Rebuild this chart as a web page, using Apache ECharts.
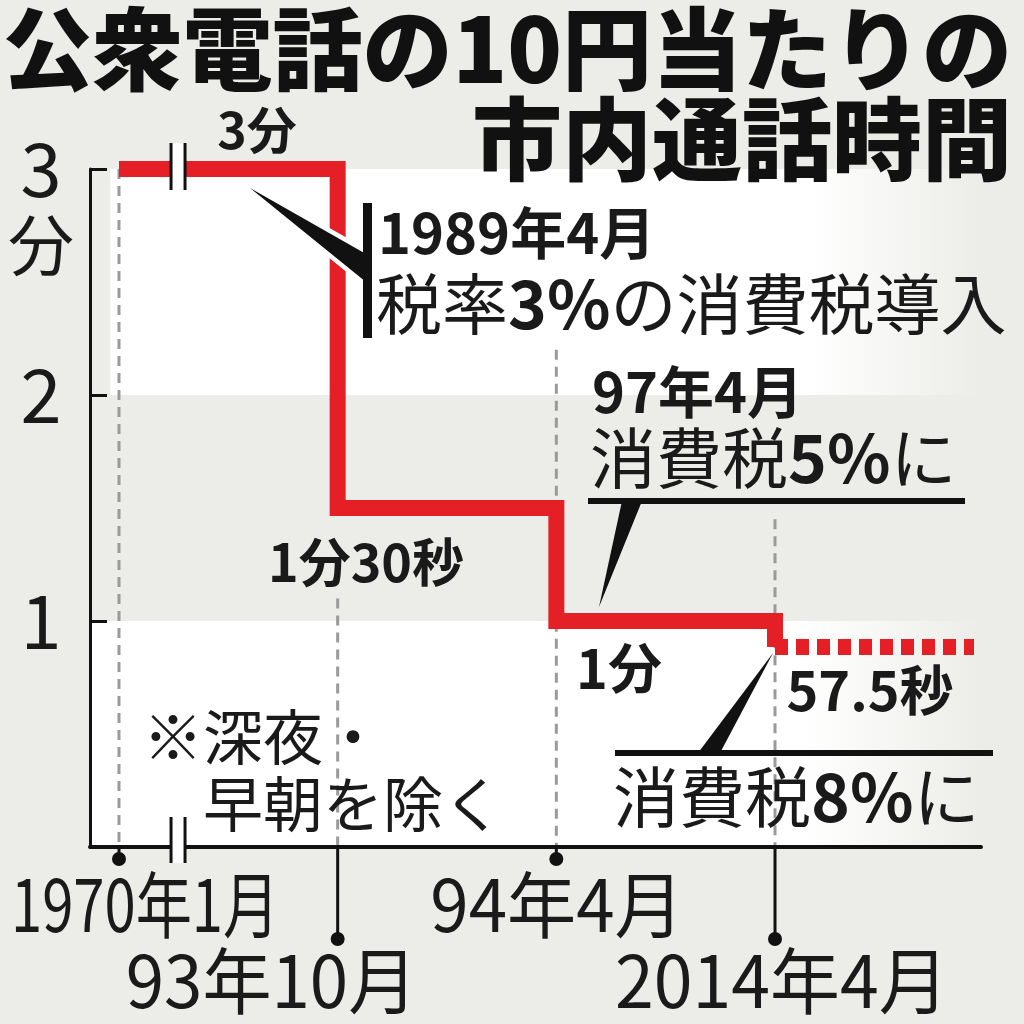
<!DOCTYPE html>
<html><head><meta charset="utf-8">
<script src="https://cdn.jsdelivr.net/npm/echarts@6/dist/echarts.min.js"></script>
<style>html,body{margin:0;padding:0;background:#ecece8}#c{width:1024px;height:1024px}</style>
</head><body><div id="c"></div>
<script>
// ---- data ----
const dateLabels = ['1970年1月', '93年10月', '94年4月', '2014年4月'];
const datePositions = [0, 1, 2, 3];          // equally spaced change dates (broken axis)
const callMinutes = [3, 1.5, 1, 0.885];       // minutes per 10 yen (as drawn)
const extendedTo = [3.91];                    // dashed continuation end
const yTickValues = [1, 2, 3];
const valueLabels = ['3分', '1分30秒', '1分', '57.5秒'];
const breakAt = [0.27];

// ---- styling ----
const JP = "'Noto Sans CJK JP', 'Noto Sans', sans-serif";
const BG = '#ecece8';
const RED = '#e41f26';
const INK = '#1a1a1a';
const xMin = -0.1326, xMax = 3.942;
const guideTop = [3, 1.1, 2.2, 1.45];
const stemLen = [12, 92, 12, 92];
const rowOff = [58, 134, 58, 134];
const labelDx = [-108, -212, -126, -160];
const labelScale = [0.78, 0.96, 0.96, 0.97];

const stepData = datePositions.map((x, i) => [x, callMinutes[i]]);
const lastVal = callMinutes[callMinutes.length - 1];
const dashData = [[datePositions[datePositions.length - 1], lastVal], [extendedTo[0], lastVal]];

function fade() {
  return new echarts.graphic.LinearGradient(0, 0, 1, 0, [
    {offset: 0, color: '#ffffff'}, {offset: 0.8, color: '#ffffff'}, {offset: 1, color: BG}
  ]);
}

const chart = echarts.init(document.getElementById('c'), null, {renderer: 'canvas'});

function txt(x, y, text, size, weight, align, extra) {
  return Object.assign({
    type: 'text', z: 100, x: x, y: y,
    style: Object.assign({
      text: text, font: (weight || 'normal') + ' ' + size + 'px ' + JP, fill: INK,
      align: align || 'left', textAlign: align || 'left',
      verticalAlign: 'middle', textVerticalAlign: 'middle'
    }, extra || {})
  });
}

const option = {
  backgroundColor: BG,
  animation: false,
  grid: {left: 90, right: 43, top: 169, bottom: 177, containLabel: false},
  xAxis: {
    type: 'value', min: xMin, max: xMax, z: 8,
    axisLine: {show: true, onZero: false, lineStyle: {color: '#111', width: 4}},
    axisTick: {show: false}, axisLabel: {show: false}, splitLine: {show: false}
  },
  yAxis: {
    type: 'value', min: 0, max: 3, interval: 1, z: 8,
    axisLine: {show: true, onZero: false, lineStyle: {color: '#111', width: 3}},
    axisTick: {show: true, inside: true, length: 17, lineStyle: {color: '#111', width: 3}},
    axisLabel: {
      show: true, fontSize: 74, fontFamily: JP, color: INK, align: 'center', margin: 49,
      formatter: v => (yTickValues.indexOf(v) >= 0 ? String(v) : '')
    },
    splitLine: {show: false}
  },
  series: [
    {
      type: 'line', data: [], z: 0, silent: true,
      markArea: {
        silent: true,
        data: [
          [{xAxis: -0.04, yAxis: 2, itemStyle: {color: fade()}}, {xAxis: xMax, yAxis: 3}],
          [{xAxis: -0.125, yAxis: 0, itemStyle: {color: fade()}}, {xAxis: xMax, yAxis: 1}]
        ]
      }
    },
    {
      type: 'custom', z: 3, clip: false, silent: true,
      data: datePositions.map(x => [x]),
      renderItem: function (params, api) {
        const i = params.dataIndex;
        const x = api.value(0);
        const base = api.coord([x, 0]);
        const top = api.coord([x, guideTop[i]]);
        return {
          type: 'group', children: [
            {type: 'line', shape: {x1: base[0], y1: top[1], x2: base[0], y2: base[1]},
             style: {stroke: '#9a9a9a', lineWidth: 3, lineDash: [10, 7]}},
            {type: 'line', shape: {x1: base[0], y1: base[1], x2: base[0], y2: base[1] + stemLen[i]},
             style: {stroke: '#111', lineWidth: 3}},
            {type: 'circle', shape: {cx: base[0], cy: base[1] + stemLen[i], r: 7}, style: {fill: '#111'}},
            {type: 'text', x: base[0] + labelDx[i], y: base[1] + rowOff[i], scaleX: labelScale[i],
             style: {text: dateLabels[i], x: 0, y: 0, font: '72px ' + JP, fill: INK,
                     align: 'left', textAlign: 'left', verticalAlign: 'middle', textVerticalAlign: 'middle'}}
          ]
        };
      }
    },
    {
      type: 'line', data: stepData, step: 'end', z: 5, clip: false, silent: true,
      symbol: 'none',
      lineStyle: {color: RED, width: 16, join: 'miter', cap: 'butt'}
    },
    {
      type: 'line', data: dashData, z: 5, clip: false, silent: true,
      symbol: 'none',
      lineStyle: {color: RED, width: 16, type: [13, 8], cap: 'butt'}
    },
    {
      type: 'custom', z: 10, clip: false, silent: true,
      data: breakAt.map(x => [x]),
      renderItem: function (params, api) {
        const x = api.value(0);
        const t = api.coord([x, 3]);
        const b = api.coord([x, 0]);
        return {
          type: 'group', children: [
            {type: 'rect', shape: {x: t[0] - 6, y: t[1] - 26, width: 12, height: 47}, style: {fill: '#ffffff'}},
            {type: 'line', shape: {x1: t[0] - 7, y1: t[1] - 26, x2: t[0] - 7, y2: t[1] + 21}, style: {stroke: '#111', lineWidth: 3}},
            {type: 'line', shape: {x1: t[0] + 7, y1: t[1] - 26, x2: t[0] + 7, y2: t[1] + 21}, style: {stroke: '#111', lineWidth: 3}},
            {type: 'rect', shape: {x: b[0] - 6, y: b[1] - 30, width: 12, height: 46}, style: {fill: '#ffffff'}},
            {type: 'line', shape: {x1: b[0] - 7, y1: b[1] - 30, x2: b[0] - 7, y2: b[1] + 16}, style: {stroke: '#111', lineWidth: 3}},
            {type: 'line', shape: {x1: b[0] + 7, y1: b[1] - 30, x2: b[0] + 7, y2: b[1] + 16}, style: {stroke: '#111', lineWidth: 3}}
          ]
        };
      }
    }
  ],
  graphic: [
    // title
    txt(1012, 49, '公衆電話の10円当たりの', 90, '900', 'right', {fill: '#111'}),
    txt(1012, 139, '市内通話時間', 90, '900', 'right', {fill: '#111'}),
    // y unit
    txt(41, 245, '分', 66, 'normal', 'center'),
    // value labels
    txt(257, 130, valueLabels[0], 50, 'bold', 'center'),
    txt(366, 562, valueLabels[1], 52, 'bold', 'center'),
    txt(619, 668, valueLabels[2], 54, 'bold', 'center'),
    txt(870, 690, valueLabels[3], 54, 'bold', 'center'),
    // 1989 callout
    {type: 'polygon', z: 99, shape: {points: [[250, 188], [366, 254], [366, 282]]},
     style: {fill: '#ffffff', stroke: '#ffffff', lineWidth: 9, lineJoin: 'round'}},
    {type: 'polygon', z: 100, shape: {points: [[250, 188], [366, 254], [366, 282]]}, style: {fill: '#111'}},
    {type: 'rect', z: 100, shape: {x: 363, y: 203, width: 9, height: 135}, style: {fill: '#111'}},
    txt(378, 233, '1989年4月', 56, 'bold', 'left'),
    {type: 'text', z: 100, x: 376, y: 304, style: {
      text: '{r|税率}{b|3%}{r|の消費税導入}', align: 'left', textAlign: 'left',
      verticalAlign: 'middle', textVerticalAlign: 'middle',
      rich: {r: {font: 'normal 66px ' + JP, fill: INK}, b: {font: 'bold 66px ' + JP, fill: INK}}
    }},
    // 97 callout
    txt(592, 392, '97年4月', 56, 'bold', 'left'),
    {type: 'text', z: 100, x: 590, y: 458, style: {
      text: '{r|消費税}{b|5%}{r|に}', align: 'left', textAlign: 'left',
      verticalAlign: 'middle', textVerticalAlign: 'middle',
      rich: {r: {font: 'normal 66px ' + JP, fill: INK}, b: {font: 'bold 66px ' + JP, fill: INK}}
    }},
    {type: 'rect', z: 100, shape: {x: 588, y: 498, width: 377, height: 6}, style: {fill: '#111'}},
    {type: 'polygon', z: 100, shape: {points: [[622, 501], [642, 501], [599, 607]]}, style: {fill: '#111'}},
    // 2014 callout
    {type: 'rect', z: 100, shape: {x: 615, y: 750, width: 378, height: 6}, style: {fill: '#111'}},
    {type: 'polygon', z: 100, shape: {points: [[698, 753], [720, 753], [773, 653]]}, style: {fill: '#111'}},
    {type: 'text', z: 100, x: 613, y: 797, style: {
      text: '{r|消費税}{b|8%}{r|に}', align: 'left', textAlign: 'left',
      verticalAlign: 'middle', textVerticalAlign: 'middle',
      rich: {r: {font: 'normal 66px ' + JP, fill: INK}, b: {font: 'bold 66px ' + JP, fill: INK}}
    }},
    // note
    txt(143, 737, '※深夜・', 60, 'normal', 'left'),
    txt(203, 804, '早朝を除く', 60, 'normal', 'left')
  ]
};
chart.setOption(option);
</script>
</body></html>
